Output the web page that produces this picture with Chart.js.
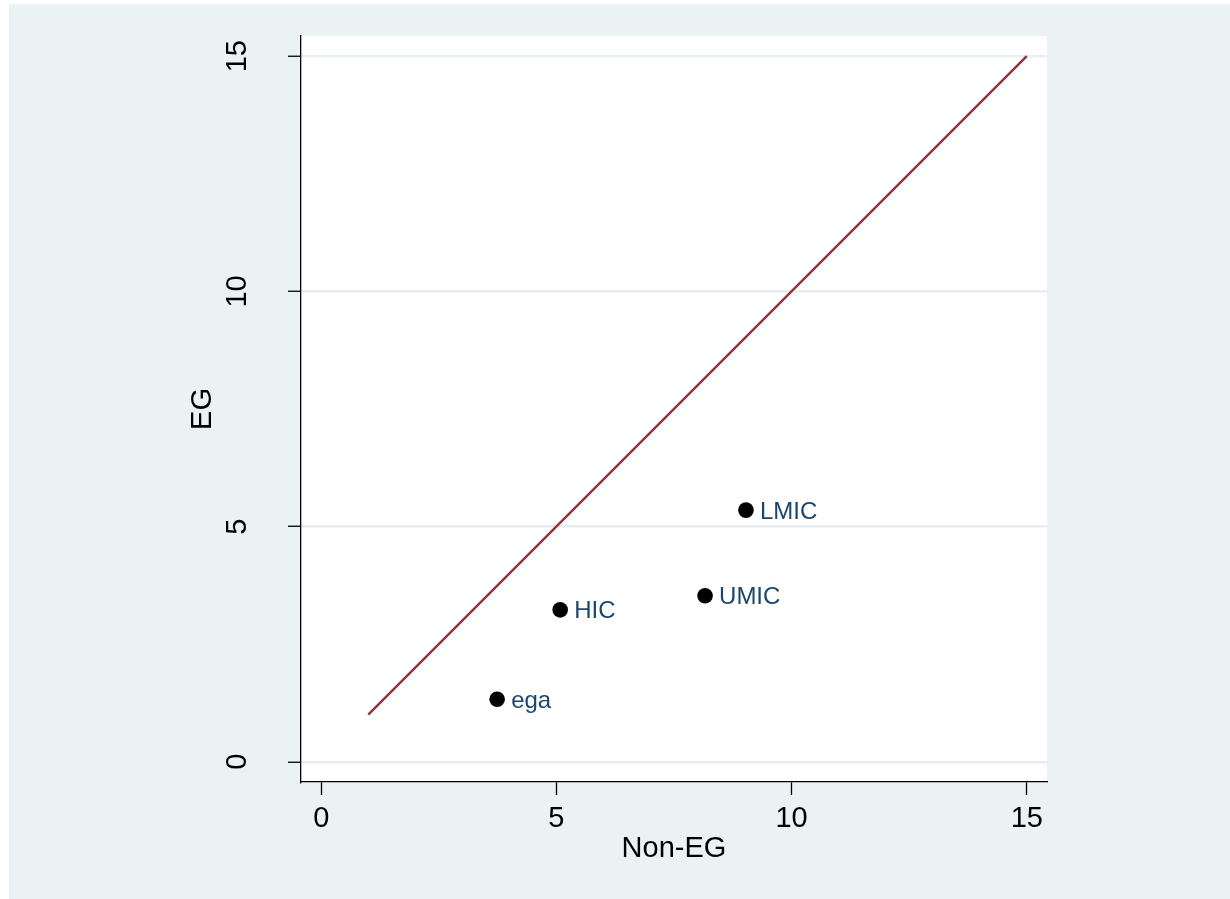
<!DOCTYPE html>
<html>
<head>
<meta charset="utf-8">
<script src="https://cdn.jsdelivr.net/npm/chart.js@4"></script>
<style>
  html, body { margin: 0; padding: 0; background: #ffffff; }
  canvas { display: block; }
</style>
</head>
<body>
<canvas id="c" width="1230" height="899"></canvas>
<script>
// ---- data ----
const groupLabels = ["ega", "HIC", "UMIC", "LMIC"];
const nonEG = [3.74, 5.08, 8.16, 9.03];
const eg = [1.33, 3.23, 3.53, 5.35];
const refLineX = [1, 15];
const refLineY = [1, 15];
const tickValues = [0, 5, 10, 15];
const xTitle = "Non-EG";
const yTitle = "EG";

// ---- styles ----
const FONT = "'Liberation Sans', Arial, Helvetica, sans-serif";
const BG = "#EAF2F3";
const GRID = "#E6EEF0";
const LINE_RED = "#93363C";
const LABEL_NAVY = "#1A476F";

const points = nonEG.map((x, i) => ({ x: x, y: eg[i], label: groupLabels[i] }));
const linePts = refLineX.map((x, i) => ({ x: x, y: refLineY[i] }));

const bgPlugin = {
  id: 'bgPlugin',
  beforeDraw(chart) {
    const ctx = chart.ctx;
    const a = chart.chartArea;
    ctx.save();
    ctx.fillStyle = '#ffffff';
    ctx.fillRect(0, 0, chart.width, chart.height);
    ctx.fillStyle = BG;
    ctx.fillRect(9, 4, chart.width - 9, chart.height - 4);
    ctx.fillStyle = '#ffffff';
    ctx.fillRect(a.left, a.top, a.right - a.left, a.bottom - a.top);
    ctx.restore();
  }
};

const yLabelPlugin = {
  id: 'yLabelPlugin',
  afterDraw(chart) {
    const ctx = chart.ctx;
    const ys = chart.scales.y;
    ctx.save();
    ctx.fillStyle = '#000000';
    ctx.font = '29px ' + FONT;
    ctx.textAlign = 'center';
    ctx.textBaseline = 'middle';
    ys.ticks.forEach(t => {
      const py = ys.getPixelForValue(t.value);
      ctx.save();
      ctx.translate(238, py);
      ctx.rotate(-Math.PI / 2);
      ctx.fillText(String(t.value), 0, 0);
      ctx.restore();
    });
    ctx.restore();
  }
};

const pointLabelPlugin = {
  id: 'pointLabelPlugin',
  afterDatasetsDraw(chart) {
    const ctx = chart.ctx;
    const meta = chart.getDatasetMeta(1);
    ctx.save();
    ctx.fillStyle = LABEL_NAVY;
    ctx.font = '24px ' + FONT;
    ctx.textAlign = 'left';
    ctx.textBaseline = 'middle';
    meta.data.forEach((el, i) => {
      ctx.fillText(groupLabels[i], el.x + 14, el.y + 2);
    });
    ctx.restore();
  }
};

new Chart(document.getElementById('c'), {
  type: 'scatter',
  data: {
    datasets: [
      {
        type: 'line',
        data: linePts,
        borderColor: LINE_RED,
        borderWidth: 2.5,
        pointRadius: 0,
        fill: false,
        tension: 0
      },
      {
        type: 'scatter',
        data: points,
        backgroundColor: '#000000',
        borderColor: '#000000',
        borderWidth: 0,
        pointRadius: 7.8,
        pointHoverRadius: 7.8
      }
    ]
  },
  options: {
    responsive: false,
    animation: false,
    devicePixelRatio: 1,
    layout: { padding: { left: 0, top: 36, right: 183, bottom: 0 } },
    plugins: {
      legend: { display: false },
      tooltip: { enabled: false }
    },
    scales: {
      x: {
        type: 'linear',
        min: -0.43,
        max: 15.43,
        afterFit(s) { s.height = 117; },
        afterBuildTicks(s) { s.ticks = tickValues.map(v => ({ value: v })); },
        ticks: {
          color: '#000000',
          font: { family: FONT, size: 29 },
          padding: 7,
          maxRotation: 0,
          autoSkip: false
        },
        grid: {
          drawOnChartArea: false,
          drawTicks: true,
          tickLength: 13,
          tickColor: '#000000',
          tickWidth: 1.3
        },
        border: { display: true, color: '#000000', width: 1.3 },
        title: {
          display: true,
          text: xTitle,
          color: '#000000',
          font: { family: FONT, size: 29 },
          padding: { top: 0, bottom: 33 }
        }
      },
      y: {
        type: 'linear',
        min: -0.43,
        max: 15.43,
        afterFit(s) { s.width = 301; },
        afterBuildTicks(s) { s.ticks = tickValues.map(v => ({ value: v })); },
        ticks: { display: false },
        grid: {
          drawOnChartArea: true,
          color: GRID,
          lineWidth: 2.5,
          drawTicks: true,
          tickLength: 13,
          tickColor: '#000000',
          tickWidth: 1.3
        },
        border: { display: true, color: '#000000', width: 1.3 },
        title: {
          display: true,
          text: yTitle,
          color: '#000000',
          font: { family: FONT, size: 29 },
          padding: { top: 186, bottom: 0 }
        }
      }
    }
  },
  plugins: [bgPlugin, yLabelPlugin, pointLabelPlugin]
});
</script>
</body>
</html>
